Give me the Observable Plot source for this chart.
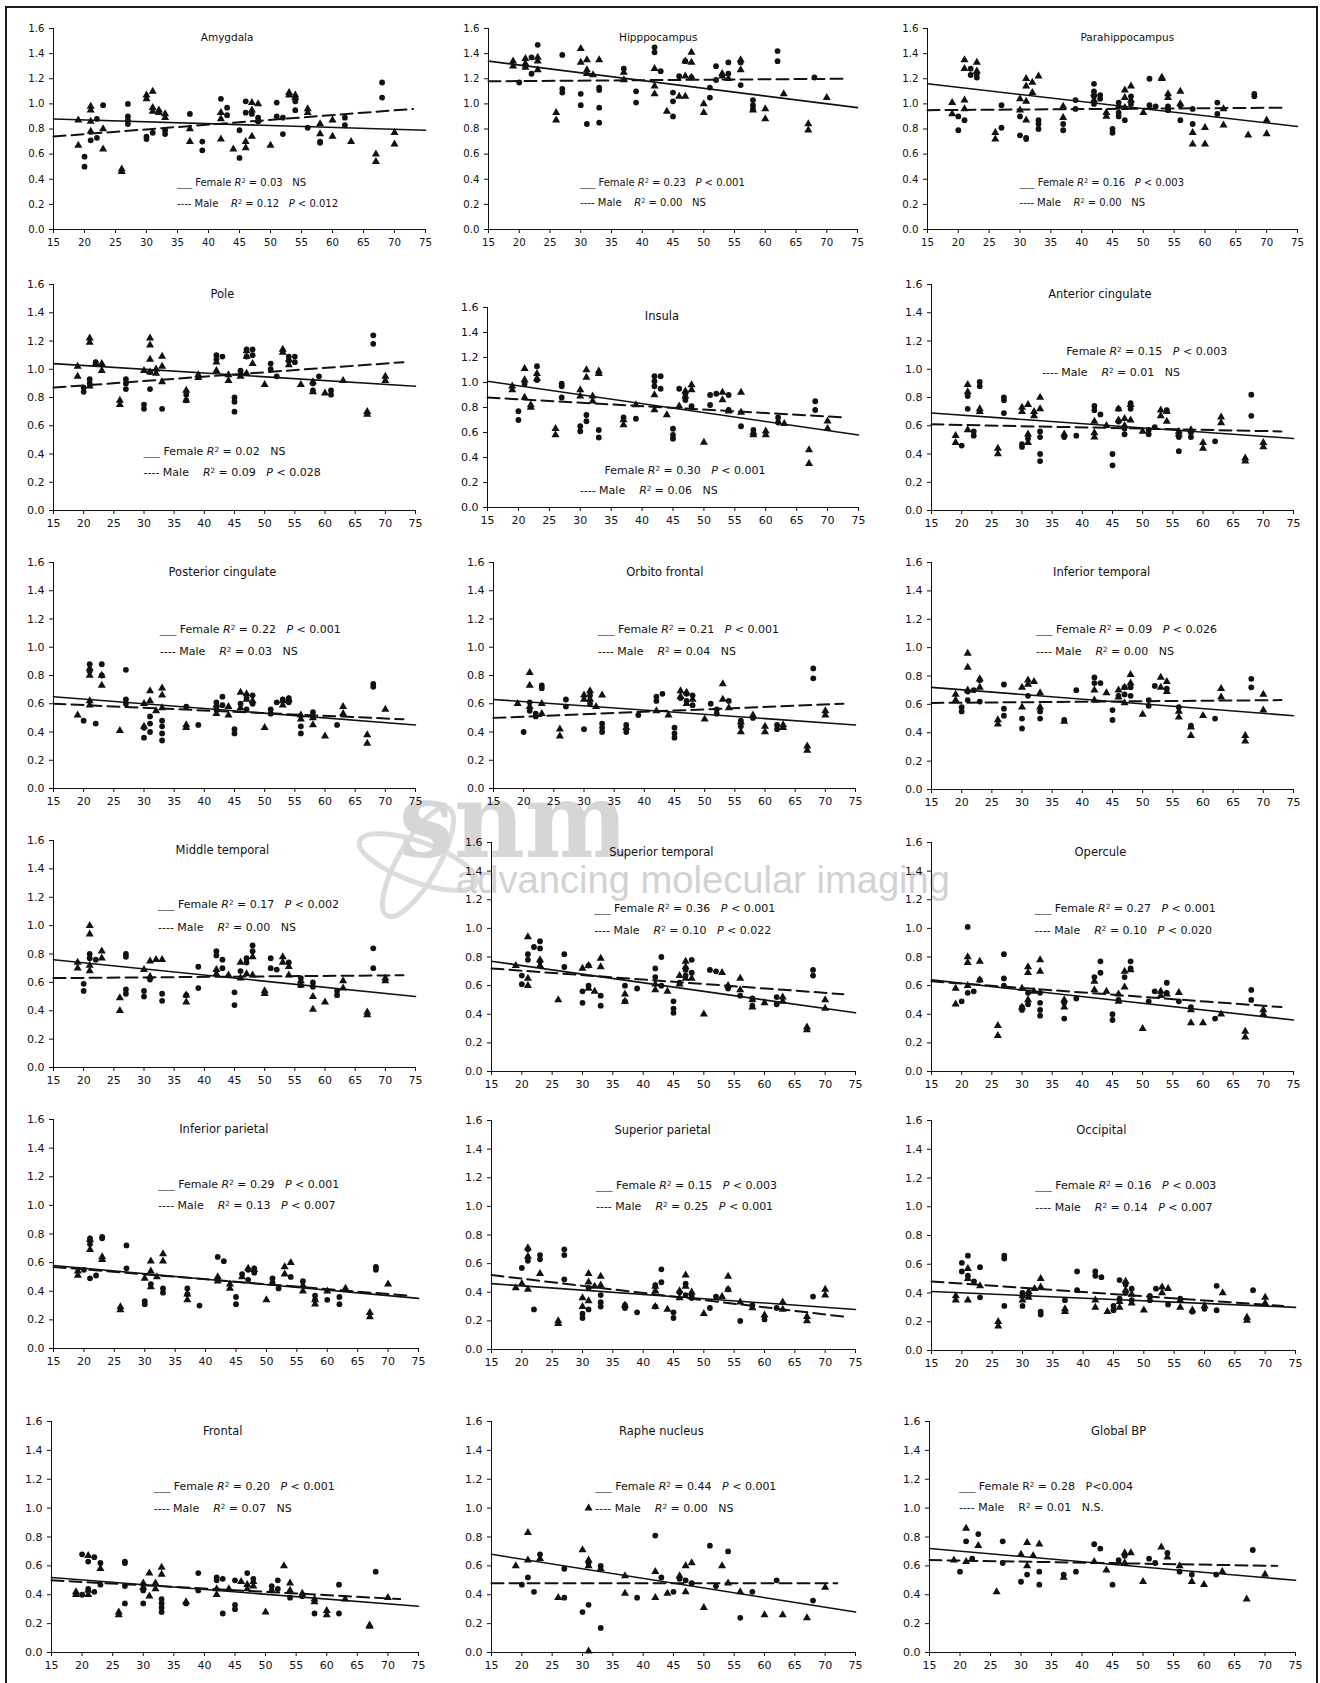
<!DOCTYPE html>
<html><head><meta charset="utf-8">
<script src="https://cdn.jsdelivr.net/npm/d3@7"></script>
<script src="https://cdn.jsdelivr.net/npm/@observablehq/plot@0.6"></script>
<style>
body{margin:0;background:#fff;}
#root{position:relative;width:1320px;height:1683px;overflow:hidden;background:#fff;font-family:"DejaVu Sans",Verdana,sans-serif;}
.frame{position:absolute;left:5px;top:6px;width:1309px;height:1720px;border:2px solid #1a1a1a;border-bottom:none;}
.leg{position:absolute;white-space:pre;line-height:12px;color:#111;}
.leg sup{font-size:0.65em;vertical-align:0.45em;line-height:0;}
.samp{color:#555;}
.wm{position:absolute;left:0;top:0;}
</style></head><body><div id="root"><div class="frame"></div></div>
<script>
// ---------- data ----------
const panelTitles = ["Amygdala","Hipppocampus","Parahippocampus","Pole","Insula","Anterior cingulate","Posterior cingulate","Orbito frontal","Inferior temporal","Middle temporal","Superior temporal","Opercule","Inferior parietal","Superior parietal","Occipital","Frontal","Raphe nucleus","Global BP"];
const femaleR2 = ["0.03","0.23","0.16","0.02","0.30","0.15","0.22","0.21","0.09","0.17","0.36","0.27","0.29","0.15","0.16","0.20","0.44","0.28"];
const femaleP  = ["NS","P < 0.001","P < 0.003","NS","P < 0.001","P < 0.003","P < 0.001","P < 0.001","P < 0.026","P < 0.002","P < 0.001","P < 0.001","P < 0.001","P < 0.003","P < 0.003","P < 0.001","P < 0.001","P<0.004"];
const maleR2   = ["0.12","0.00","0.00","0.09","0.06","0.01","0.03","0.04","0.00","0.00","0.10","0.10","0.13","0.25","0.14","0.07","0.00","0.01"];
const maleP    = ["P < 0.012","NS","NS","P < 0.028","NS","NS","NS","NS","NS","NS","P < 0.022","P < 0.020","P < 0.007","P < 0.001","P < 0.007","NS","NS","N.S."];
const xTicks = [15,20,25,30,35,40,45,50,55,60,65,70,75];
const yTicks = [0,0.2,0.4,0.6,0.8,1.0,1.2,1.4,1.6];

// points: [age, value, value, ...]  (circles / triangles)
const amyC = [[20,.58,.50],[21,.71],[22,.88,.73],[23,.99],[27,1.00,.90,.87,.84],[30,.74,.72],[31,.77],[33,.79,.76],[37,.92],[39,.70,.63],[42,1.04],[43,.97,.91],[45,.79,.57],[46,1.02,.93],[47,.92],[48,.89,.86],[51,1.01,.90],[52,.89,.76],[54,1.02,.95],[56,.81],[58,.70,.69],[62,.89,.83],[68,1.17,1.05]];
const amyT = [[19,.87,.67],[21,.98,.95,.86,.78],[23,.80,.64],[26,.48,.46],[30,1.07,1.04],[31,1.10,.97,.94],[32,.95,.93],[33,.92,.89],[37,.80,.70],[42,.93,.88,.72],[44,.64],[46,.70,.65],[47,1.01,.95,.74],[48,1.00,.87],[50,.67],[53,1.09,1.07],[54,1.07,1.05],[56,.96,.93],[58,.84,.76],[60,.87,.74],[63,.70],[67,.60,.54],[70,.77,.68]];
const hipC = [[20,1.17],[21,1.30],[22,1.37,1.24],[23,1.47],[27,1.39,1.12,1.09],[30,1.08,.99],[31,.84],[33,1.13,1.11,.97,.85],[37,1.28],[39,1.10,1.01],[42,1.45,1.41],[43,1.26],[45,1.09,1.02,.90],[46,1.22],[47,1.34],[48,1.21],[51,1.13,1.05],[52,1.30,1.19],[54,1.33,1.24],[56,1.33,1.15],[58,1.03,.99,.96],[62,1.42,1.34],[68,1.21]];
const hipT = [[19,1.34,1.30],[21,1.36,1.32,1.29],[23,1.37,1.34,1.27],[26,.93,.87],[30,1.44,1.33],[31,1.35,1.27,1.24],[32,1.23],[33,1.35],[37,1.25,1.19],[42,1.28,1.14,1.08],[44,.94],[46,1.06],[47,1.34,1.22,1.06],[48,1.41,1.33,1.21],[50,1.00,.93],[53,1.24,1.22],[54,1.20],[56,1.35,1.27],[58,.95],[60,.96,.88],[63,1.08],[67,.84,.79],[70,1.05]];
const parC = [[20,.90,.79],[21,.87],[22,1.28,1.23],[23,1.24,1.21],[27,.99,.81],[30,.90,.75],[31,.73,.72],[33,.87,.84,.80],[37,.84,.79],[39,1.03,.96],[42,1.16,1.10,1.06,1.00],[43,1.07,1.04],[45,.80,.77],[46,1.01,.93,.90],[47,.87],[48,1.06,1.00],[51,1.20,.99],[52,.98],[54,.98,.95],[56,.99,.87],[58,.96,.84],[62,1.01,.92],[68,1.08,1.06]];
const parT = [[19,1.01,.92],[21,1.35,1.28,1.03,.96],[23,1.33,1.26],[26,.77,.72],[30,1.04,.95],[31,1.20,1.14,1.02,.87],[32,1.17,1.09],[33,1.22],[37,.98,.89],[42,1.08,1.03],[44,.93,.90],[46,.98],[47,1.11,1.05,.97],[48,1.14,1.03],[50,.93],[53,1.21,1.20],[54,1.08,1.05],[56,1.10,1.00],[58,.77,.68],[60,.81,.68],[63,.96,.83],[67,.75],[70,.87,.76]];
const polC = [[20,.87,.84],[21,.93,.90],[22,1.05],[27,.93,.90,.86],[30,.75,.72],[31,.98,.86],[33,.72],[37,.82,.78],[39,.95],[42,1.10,1.07],[43,1.09],[45,.80,.77,.70],[46,.99],[47,1.14,1.09],[48,1.14,1.10],[51,1.04,1.00],[52,.95],[54,1.09,1.06],[55,1.09,1.05],[58,.90,.85],[59,.95],[61,.85,.82],[68,1.24,1.18]];
const polT = [[19,1.02,.95],[21,1.22,1.19,.88],[22,1.04],[23,1.04,.99],[26,.78,.75],[30,.99],[31,1.22,1.17,1.07,.98],[32,1.00,.97],[33,1.09,1.02,.91],[37,.85,.78],[39,.96,.94],[42,1.05,.99],[44,.96,.92],[46,.95],[47,1.13,1.09,.97],[48,1.04],[50,.89],[53,1.14,1.12],[54,1.07,1.03],[56,.89],[58,.91,.84],[60,.83],[63,.92],[67,.70,.68],[70,.95,.92]];
const insC = [[20,.77,.70],[21,.99],[23,1.13,1.02],[27,.99,.97,.88],[30,.65,.61],[31,.74,.69],[33,.62,.56],[37,.72],[39,.71],[42,1.05,1.01,.97],[43,1.05,.95],[45,.63,.58,.55],[46,.95],[47,.91,.86],[48,.81],[51,.90,.82],[52,.91],[54,.90,.78],[56,.65],[58,.62],[62,.72,.68],[68,.85,.78]];
const insT = [[19,.97,.94],[21,1.11,1.02,.88],[22,.82,.80],[23,1.07,1.03],[26,.63,.58],[30,.94,.89],[31,1.10,1.04],[32,.89,.85],[33,1.09,1.07],[37,.70,.66],[39,.82],[42,.90,.78],[44,.74],[46,.81],[47,.93,.89],[48,.98,.94],[50,.52],[53,.92,.86],[54,.77],[56,.92,.76],[58,.60,.58],[60,.61,.58],[63,.67],[67,.46,.35],[70,.69,.63]];
const acC = [[20,.46],[21,.81,.72],[22,.56,.53],[23,.91,.88],[27,.80,.78,.69],[30,.47,.45],[31,.51],[33,.56,.52,.40,.35],[37,.52],[39,.53],[42,.74,.71],[43,.68],[45,.40,.32],[46,.72,.63],[47,.58,.54],[48,.76,.72],[51,.57,.54],[52,.59],[54,.71],[56,.52,.42],[58,.55,.52],[62,.49],[68,.82,.67]];
const acT = [[19,.53,.48],[21,.89,.84,.57],[23,.72,.70],[26,.44,.40],[30,.73,.70],[31,.75,.54,.48],[32,.70,.67],[33,.80,.72],[37,.54],[42,.63,.55,.52],[44,.60],[46,.72,.64],[47,.65,.60],[48,.75,.64],[50,.56],[53,.71,.67],[54,.70,.63],[56,.56,.54],[58,.57],[60,.48,.44],[63,.66,.62],[67,.37,.35],[70,.48,.45]];
const pcC = [[20,.48],[21,.88,.83],[22,.46],[23,.88,.80],[27,.84,.63,.60],[30,.43,.36],[31,.51,.46,.40],[33,.48,.44,.39,.34],[37,.58],[39,.45],[42,.61,.56],[43,.65,.59],[45,.42,.39],[46,.60],[47,.64,.56],[48,.66,.60],[51,.56,.53],[52,.61],[53,.63],[54,.64,.61],[56,.44,.39],[58,.54],[62,.45],[68,.74,.72]];
const pcT = [[19,.52],[21,.85,.80,.62,.59],[23,.80,.73],[26,.41],[30,.60,.44],[31,.69,.62],[32,.55],[33,.71,.66,.57],[37,.45,.43],[42,.59,.53],[44,.58,.52],[46,.68,.57],[47,.67,.63],[48,.62],[50,.43],[53,.62,.59],[54,.63],[56,.52,.49],[58,.50,.45],[60,.37],[63,.58,.53],[67,.38,.32],[70,.56]];
const ofC = [[20,.40],[21,.61,.55],[22,.53,.51],[23,.73,.71],[27,.63,.58],[30,.42],[31,.66,.60],[33,.46,.43,.40],[37,.45,.40],[39,.52],[42,.65,.62],[43,.67],[45,.43,.39,.36],[46,.64],[47,.67,.62],[48,.66,.59],[51,.60],[52,.56,.53],[54,.62],[56,.48,.44],[58,.50],[62,.45,.42],[68,.85,.78]];
const ofT = [[19,.60],[21,.82,.73,.58],[23,.60,.53],[26,.42,.37],[30,.66,.63],[31,.69,.63],[32,.58],[33,.66],[37,.43],[42,.55],[44,.52],[46,.69,.65],[47,.68,.60],[48,.63],[50,.49],[53,.74,.63],[54,.57],[56,.47,.40],[58,.52],[60,.44,.40],[63,.45,.43],[67,.30,.27],[70,.55,.52]];
const itC = [[20,.58,.55],[21,.69,.63],[22,.70],[23,.77,.62],[27,.74,.57,.52],[30,.50,.43],[31,.66],[33,.55,.50],[37,.49],[39,.70],[42,.79,.75],[43,.75],[45,.56,.49],[46,.66],[47,.72,.67],[48,.72,.66],[51,.63,.59],[52,.73],[54,.71],[56,.58],[58,.45],[62,.50],[68,.78,.72]];
const itT = [[19,.67,.63],[21,.96,.86,.70],[23,.78,.72],[26,.49,.46],[30,.72,.58],[31,.77,.74],[32,.76],[33,.68,.58],[37,.48],[42,.70,.63],[44,.68],[46,.70,.65],[47,.72,.61],[48,.81,.75],[50,.53],[53,.79,.72],[54,.76,.69],[56,.55,.51],[58,.44,.38],[60,.52],[63,.71,.65],[67,.38,.34],[70,.67,.56]];
const mtC = [[20,.59,.54],[21,.80,.77],[22,.76],[27,.80,.78,.55,.52],[30,.54,.50],[31,.62],[33,.52,.47],[37,.51],[39,.71,.56],[42,.82,.79],[43,.76,.70],[45,.53,.44],[46,.68],[47,.77,.74],[48,.86,.82],[51,.77,.70],[52,.69],[54,.74],[56,.63,.58],[58,.60,.57],[62,.54,.51],[68,.84,.70]];
const mtT = [[19,.74,.70],[21,1.00,.94,.72,.68],[23,.82,.77],[26,.49,.40],[30,.69],[31,.75,.64],[32,.76],[33,.76],[37,.51,.46],[42,.69,.66],[44,.65],[46,.74,.63],[47,.66],[48,.78,.65],[50,.54,.52],[53,.78,.74],[54,.71,.65],[56,.61,.58],[58,.50,.41],[60,.46],[63,.61,.56],[67,.39,.37],[70,.63,.61]];
const stC = [[20,.67,.61],[21,.82,.78],[22,.87],[23,.91,.86,.77],[27,.82,.73],[30,.56,.48],[31,.74,.60],[33,.53,.46],[37,.60,.49],[39,.58],[42,.72,.66],[43,.80,.60],[45,.49,.44,.41],[46,.62],[47,.71,.67],[48,.78,.69],[51,.71],[52,.70],[54,.58],[56,.53],[58,.51,.46],[62,.52,.47],[68,.71,.67]];
const stT = [[19,.74],[21,.94,.65,.60],[23,.78,.74],[26,.50],[30,.72],[31,.74,.58],[32,.56],[33,.79,.73],[37,.54,.49],[42,.61,.57],[44,.56],[46,.67,.61],[47,.77,.73,.65],[48,.65],[50,.40],[53,.69],[54,.60],[56,.65,.57],[58,.50,.45],[60,.48],[63,.52,.49],[67,.31,.29],[70,.50,.44]];
const opC = [[20,.49],[21,1.01,.55],[22,.56],[23,.64],[27,.82,.65,.60],[30,.45,.43],[31,.55,.47],[33,.55,.48,.43,.39],[37,.48,.37],[39,.51],[42,.66],[43,.77,.69],[45,.40,.36],[46,.50],[47,.66],[48,.77,.72],[51,.49],[52,.56],[54,.62,.55],[56,.49],[58,.45],[62,.37],[68,.57,.50]];
const opT = [[19,.58,.47],[21,.80,.76,.60],[23,.77,.64],[26,.32,.25],[30,.58,.45],[31,.73,.69,.50],[32,.56],[33,.78,.70],[37,.50,.45],[42,.63,.57],[44,.56],[46,.54,.49],[47,.70,.59],[48,.71],[50,.30],[53,.56,.53],[54,.54],[56,.55],[58,.43,.34],[60,.34],[63,.40],[67,.28,.24],[70,.43,.40]];
const ipC = [[20,.55],[21,.77,.73,.49],[22,.51],[23,.78,.77],[27,.72,.56],[30,.33,.31],[31,.45],[33,.42,.39],[37,.42,.38],[39,.30],[42,.64],[43,.61],[45,.36,.31],[46,.52],[47,.55,.48],[48,.56,.53],[51,.49,.46],[52,.42],[54,.50],[56,.47],[58,.37,.34],[60,.34],[62,.36,.31],[68,.57,.55]];
const ipT = [[19,.54,.51],[21,.76,.69],[23,.64,.62],[26,.29,.27],[30,.49],[31,.61,.54,.43],[32,.50],[33,.66,.61],[37,.38,.34],[42,.50,.47],[44,.45,.42],[46,.50],[47,.56],[48,.55],[50,.34],[53,.57,.52],[54,.60],[56,.44,.40],[58,.34,.31],[60,.40],[63,.42],[67,.25,.22],[70,.45]];
const spC = [[20,.57],[21,.70,.62],[22,.28],[23,.66,.63],[27,.70,.66,.49],[30,.25,.22],[31,.43,.28],[33,.38,.33,.30],[37,.31,.29],[39,.26],[42,.45,.30],[43,.56,.47],[45,.26,.22],[46,.40],[47,.46,.38],[48,.38,.36],[51,.29],[52,.37],[54,.42],[56,.20],[58,.31],[60,.21],[62,.29],[68,.37]];
const spT = [[19,.43],[20,.46],[21,.71,.65,.42],[23,.53],[26,.20,.18],[30,.36,.30],[31,.53,.47,.34],[32,.44],[33,.51,.45],[37,.31],[42,.44,.41,.30],[44,.28],[46,.41,.36],[47,.52,.44],[48,.40],[50,.25],[53,.37],[54,.51,.42],[56,.33],[58,.29],[60,.24],[63,.33,.28],[67,.23,.20],[70,.42,.38]];
const occC = [[20,.61,.55],[21,.66,.52],[22,.48],[23,.58,.37],[27,.66,.64,.31],[30,.40,.31],[31,.39],[33,.27,.25],[37,.35],[39,.55,.42],[42,.55,.52],[43,.51],[45,.31,.28],[46,.49,.36],[47,.46,.40],[48,.43,.35],[51,.38,.35],[52,.43],[54,.32],[56,.36],[58,.27],[60,.29],[62,.45,.28],[68,.42]];
const occT = [[19,.38,.35],[21,.57,.50,.35],[23,.45],[26,.20,.17],[30,.38,.35],[31,.41,.37],[32,.43],[33,.50,.44],[37,.29,.27],[42,.35,.30],[44,.27],[46,.34,.30],[47,.48,.42],[48,.39,.33],[50,.28],[53,.44,.40],[54,.43],[56,.35,.30],[58,.28],[60,.31],[63,.40],[67,.23,.21],[70,.37,.33]];
const frC = [[20,.68,.40],[21,.63,.44],[22,.66,.42],[23,.62,.47],[27,.63,.62,.46,.34],[30,.43,.34],[33,.37,.34,.31,.28],[37,.34],[39,.55,.43],[42,.52,.50],[43,.51,.27],[45,.50,.33,.30],[47,.55],[48,.51],[51,.46,.43],[52,.50,.44],[54,.38],[56,.39],[58,.27],[62,.47,.27],[68,.56]];
const frT = [[19,.42,.40],[21,.67,.43,.40],[23,.58],[26,.28,.26],[30,.48,.45],[31,.55,.39],[32,.48,.44],[33,.59,.54],[37,.35],[42,.44,.40],[44,.44],[46,.49],[47,.47,.44],[48,.49,.46],[50,.28],[53,.60],[54,.48,.43],[56,.41],[58,.37,.35],[60,.29,.26],[63,.37],[67,.19,.18],[70,.38]];
const raC = [[20,.47],[21,.52],[22,.42],[23,.68],[27,.58,.38],[30,.28],[31,.62,.33],[33,.60,.17],[39,.38],[42,.81],[43,.52],[45,.42],[46,.51],[47,.50],[48,.48],[51,.74],[52,.46],[54,.70],[56,.24],[58,.42],[62,.50],[68,.36]];
const raT = [[19,.60],[21,.83,.64],[23,.65],[26,.38],[30,.71],[31,1.00,.64,.60,.01],[33,.58],[37,.41,.53],[42,.56,.38],[44,.41],[46,.53],[47,.60,.42],[48,.62],[50,.31],[53,.60],[54,.48],[56,.42],[60,.26],[63,.26],[67,.24],[70,.45]];
const glC = [[20,.56],[21,.77],[22,.65],[23,.82],[27,.77,.62],[30,.49],[31,.54],[33,.56,.47],[37,.54],[39,.56],[42,.75],[43,.72],[45,.47],[46,.64],[47,.67],[51,.65],[52,.62],[54,.69],[56,.56],[58,.54],[62,.54],[68,.71]];
const glT = [[19,.64],[21,.86,.63],[23,.74],[26,.42],[30,.68],[31,.76,.60],[32,.67],[33,.75],[37,.52],[42,.63],[44,.57],[47,.62,.69],[48,.69],[50,.49],[53,.73],[54,.66],[56,.60],[58,.49],[60,.47],[63,.56],[67,.37],[70,.54]];

// regression lines: female (solid) and male (dashed) end points [age, value]
const femaleLines = [
  [[15,.88],[75,.79]],[[15,1.34],[75,.97]],[[15,1.16],[75,.82]],
  [[15,1.04],[75,.88]],[[15,1.01],[75,.58]],[[15,.69],[75,.51]],
  [[15,.65],[75,.45]],[[15,.63],[75,.45]],[[15,.72],[75,.52]],
  [[15,.76],[75,.50]],[[15,.77],[75,.41]],[[15,.64],[75,.36]],
  [[15,.58],[75,.35]],[[15,.46],[75,.28]],[[15,.41],[75,.30]],
  [[15,.52],[75,.32]],[[15,.68],[75,.28]],[[15,.72],[75,.50]]];
const maleLines = [
  [[15,.74],[73,.96]],[[15,1.18],[73,1.20]],[[15,.95],[73,.97]],
  [[15,.87],[73,1.05]],[[15,.88],[73,.72]],[[15,.61],[73,.56]],
  [[15,.60],[73,.49]],[[15,.50],[73,.60]],[[15,.61],[73,.63]],
  [[15,.63],[73,.65]],[[15,.72],[73,.54]],[[15,.63],[73,.45]],
  [[15,.57],[73,.37]],[[15,.52],[73,.23]],[[15,.48],[73,.31]],
  [[15,.50],[72,.37]],[[15,.48],[72,.48]],[[15,.64],[72,.60]]];

const circleSets = [amyC,hipC,parC,polC,insC,acC,pcC,ofC,itC,mtC,stC,opC,ipC,spC,occC,frC,raC,glC];
const triangleSets = [amyT,hipT,parT,polT,insT,acT,pcT,ofT,itT,mtT,stT,opT,ipT,spT,occT,frT,raT,glT];

// ---------- layout (pixel frame of each plot area: left, right, top, bottom) ----------
const boxes = [
  [53,425,28,229],[488,857,28,229],[927,1297,28,229],
  [53,415,284,510],[487,858,307,507],[931,1293,284,510],
  [53,415,562,788],[493,855,562,788],[931,1293,562,789],
  [53,415,840,1067],[491,855,842,1071],[931,1293,842,1071],
  [53,418,1119,1348],[491,855,1120,1349],[931,1295,1120,1350],
  [51,418,1421,1652],[491,855,1421,1652],[929,1295,1421,1652]];
// legend anchors in data space: [femaleAge, femaleV, femaleSample, maleAge, maleV]
const legendAt = [
  [35,.37,true,35,.20],[30,.37,true,30,.21],[30,.37,true,30,.21],
  [30,.41,true,30,.26],[34,.29,false,30,.13],[37.4,1.12,false,33.4,.97],
  [32.7,1.12,true,32.7,.965],[32.4,1.12,true,32.4,.965],[32.4,1.12,true,32.4,.965],
  [32.4,1.14,true,32.4,.98],[32,1.13,true,32,.98],[32.2,1.13,true,32.2,.98],
  [32.3,1.14,true,32.3,.99],[32.3,1.14,true,32.3,.99],[32.2,1.14,true,32.2,.99],
  [31.8,1.14,true,31.8,.99],[32.2,1.14,true,32.2,.99],[19.9,1.14,true,19.9,1.0]];
const titleAge = [43,42.6,47.4,43,43.2,42.9,43,43.4,43.2,43,43,43,43,43.2,43,43,43,46];

// ---------- drawing ----------
const root = document.getElementById("root");
const FONT = "'DejaVu Sans', Verdana, sans-serif";

// watermark (behind charts)
const wm = d3.select(root).append("svg").attr("class","wm").attr("width",1320).attr("height",1683);
const g = wm.append("g").attr("fill","none").attr("stroke","#dcdcdc").attr("stroke-width",5);
g.append("ellipse").attr("cx",418).attr("cy",862).attr("rx",62).attr("ry",20).attr("transform","rotate(-60 418 862)");
g.append("ellipse").attr("cx",418).attr("cy",862).attr("rx",62).attr("ry",20).attr("transform","rotate(20 418 862)");
wm.append("text").attr("x",399).attr("y",857).attr("font-family","'DejaVu Serif', serif").attr("font-weight","bold")
  .attr("font-size",104).attr("fill","#d6d6d6").attr("textLength",229).attr("lengthAdjust","spacingAndGlyphs").text("snm");
wm.append("text").attr("x",456).attr("y",893).attr("font-family","'Liberation Sans', Arial, sans-serif")
  .attr("font-size",38).attr("fill","#d2d2d2").attr("textLength",494).attr("lengthAdjust","spacingAndGlyphs").text("advancing molecular imaging");

const pts = rows => rows.flatMap(([a, ...vs]) => vs.map(v => ({age: a, v})));
const fmtP = s => (s === "NS" || s === "N.S." || s.startsWith("P<")) ? s.replace("<", "&lt;") : s.replace(/^P < /, "<i>P</i> &lt; ");

const mL = 44, mR = 14, mT = 12, mB = 30;
panelTitles.forEach((title, i) => {
  const [l, r, t, b] = boxes[i];
  const fs = i < 3 ? 10.5 : 11.5;      // text size of this panel's labels
  const tfs = i < 3 ? 10.2 : 11;       // tick label size
  const W = r - l + mL + mR, H = b - t + mT + mB;
  const plot = Plot.plot({
    width: W, height: H, marginLeft: mL, marginRight: mR, marginTop: mT, marginBottom: mB,
    style: {background: "transparent", fontFamily: FONT, fontSize: tfs + "px", color: "#111", overflow: "visible"},
    x: {domain: [15, 75]},
    y: {domain: [0, 1.6]},
    marks: [
      Plot.axisX({ticks: xTicks, tickFormat: d => String(d), tickSize: 4, tickPadding: 5, label: null, fontSize: tfs}),
      Plot.axisY({ticks: yTicks, tickFormat: d => d.toFixed(1), tickSize: 4, tickPadding: 5, label: null, fontSize: tfs}),
      Plot.ruleX([15], {y1: 0, y2: 1.6, stroke: "#111", strokeWidth: 1}),
      Plot.ruleY([0], {x1: 15, x2: 75, stroke: "#111", strokeWidth: 1}),
      Plot.line(maleLines[i], {x: d => d[0], y: d => d[1], stroke: "#111", strokeWidth: 2, strokeDasharray: "12,6"}),
      Plot.line(femaleLines[i], {x: d => d[0], y: d => d[1], stroke: "#111", strokeWidth: 1.6}),
      Plot.dot(pts(circleSets[i]), {x: "age", y: "v", r: 2.9, fill: "#111", stroke: "none"}),
      Plot.dot(pts(triangleSets[i]), {x: "age", y: "v", symbol: "triangle", r: 3.0, fill: "#111", stroke: "none"}),
      Plot.text([{t: title, x: titleAge[i], y: 1.53}], {x: "x", y: "y", text: "t", fontSize: fs, fill: "#111"})
    ]
  });
  const left = l - mL, top = t - mT;
  plot.style.position = "absolute";
  plot.style.left = left + "px";
  plot.style.top = top + "px";
  root.appendChild(plot);

  const xs = plot.scale("x"), ys = plot.scale("y");
  const R = i === 17 ? "R<sup>2</sup>" : "<i>R</i><sup>2</sup>";
  const [fa, fv, samp, ma, mv] = legendAt[i];
  const fHtml = (samp ? '<span class="samp">___</span> ' : '') + 'Female ' + R + ' = ' + femaleR2[i] + '&nbsp;&nbsp; ' + fmtP(femaleP[i]);
  const mHtml = '---- Male&nbsp;&nbsp;&nbsp; ' + R + ' = ' + maleR2[i] + '&nbsp;&nbsp; ' + fmtP(maleP[i]);
  [[fa, fv, fHtml], [ma, mv, mHtml]].forEach(([a, v, html]) => {
    const d = document.createElement("div");
    d.className = "leg";
    d.style.fontSize = (fs - 0.5) + "px";
    d.innerHTML = html;
    d.style.left = (left + xs.apply(a)) + "px";
    d.style.top = (top + ys.apply(v) - 6) + "px";
    root.appendChild(d);
  });
});
</script>
</body></html>
